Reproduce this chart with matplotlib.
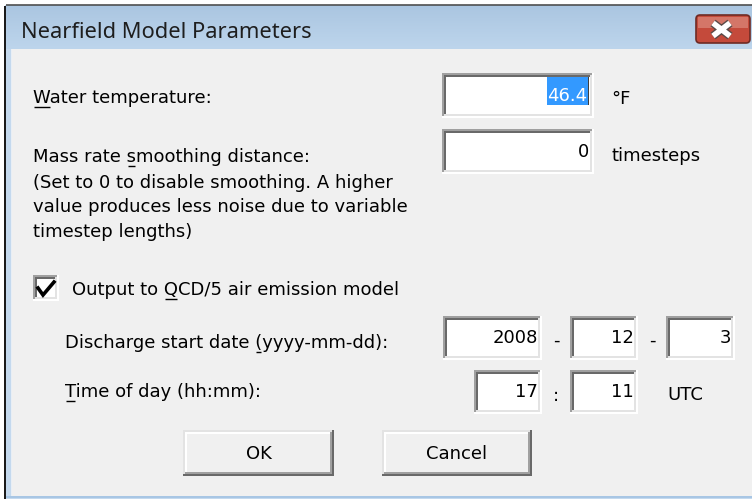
import numpy as np
import matplotlib
matplotlib.use("Agg")
import matplotlib.pyplot as plt
from matplotlib.patches import Rectangle, FancyBboxPatch
from matplotlib.colors import LinearSegmentedColormap
import matplotlib.patheffects as pe

plt.rcParams['font.family'] = ['DejaVu Sans']

# dialog content
title = "Nearfield Model Parameters"
labels = ["Water temperature:", "Mass rate smoothing distance:",
          "Output to QCD/5 air emission model",
          "Discharge start date (yyyy-mm-dd):", "Time of day (hh:mm):"]
underline_idx = [0, 10, 10, 21, 0]
note_lines = ["(Set to 0 to disable smoothing. A higher",
              "value produces less noise due to variable",
              "timestep lengths)"]
water_temp = "46.4"
smoothing = "0"
date_parts = ["2008", "12", "3"]
time_parts = ["17", "11"]
units = ["°F", "timesteps", "UTC"]
buttons = ["OK", "Cancel"]

W, H = 752, 500
FS = 13
BG = "#f0f0f0"

fig = plt.figure(figsize=(W / 100, H / 100), dpi=100)
ax = fig.add_axes([0, 0, 1, 1])
ax.set_xlim(0, W)
ax.set_ylim(H, 0)
ax.axis("off")
fig.patch.set_facecolor("white")


def rect(x0, y0, x1, y1, z=2, **kw):
    ax.add_patch(Rectangle((x0, y0), x1 - x0, y1 - y0, zorder=z, **kw))


def hline(x0, x1, y, c, lw=1):
    ax.plot([x0, x1], [y, y], color=c, lw=lw * 0.72, solid_capstyle="butt", zorder=3)


def vline(x, y0, y1, c, lw=1):
    ax.plot([x, x], [y0, y1], color=c, lw=lw * 0.72, solid_capstyle="butt", zorder=3)


def sunken(x0, y0, x1, y1, fill="white"):
    rect(x0, y0, x1, y1, facecolor=fill, edgecolor="none")
    hline(x0, x1, y0 + 1, "#a0a0a0", 2)
    vline(x0 + 1, y0, y1, "#a0a0a0", 2)
    hline(x0 + 2, x1 - 2, y0 + 3, "#696969", 2)
    vline(x0 + 3, y0 + 2, y1 - 2, "#696969", 2)
    hline(x0, x1, y1 - 1, "#ffffff", 2)
    vline(x1 - 1, y0, y1, "#ffffff", 2)
    hline(x0 + 2, x1 - 2, y1 - 3, "#e3e3e3", 2)
    vline(x1 - 3, y0 + 2, y1 - 2, "#e3e3e3", 2)


def raised(x0, y0, x1, y1):
    rect(x0, y0, x1, y1, facecolor=BG, edgecolor="none")
    hline(x0, x1, y0 + 1, "#e3e3e3", 2)
    vline(x0 + 1, y0, y1, "#e3e3e3", 2)
    hline(x0 + 2, x1 - 2, y0 + 3, "#ffffff", 2)
    vline(x0 + 3, y0 + 2, y1 - 2, "#ffffff", 2)
    hline(x0, x1, y1 - 1, "#696969", 2)
    vline(x1 - 1, y0, y1, "#696969", 2)
    hline(x0 + 2, x1 - 2, y1 - 3, "#a0a0a0", 2)
    vline(x1 - 3, y0 + 2, y1 - 2, "#a0a0a0", 2)


def txt(x, y, s, ha="left", color="#000000"):
    return ax.text(x, y, s, fontsize=FS, va="baseline", ha=ha, color=color, zorder=5)


def label(x, y, s, ul=None):
    t = txt(x, y, s)
    if ul is not None:
        # underline the mnemonic letter
        r = fig.canvas.get_renderer()
        inv = ax.transData.inverted()
        pre = ax.text(x, y, s[:ul], fontsize=FS, va="baseline", alpha=0)
        ch = ax.text(x, y, s[:ul + 1], fontsize=FS, va="baseline", alpha=0)
        xa = inv.transform(pre.get_window_extent(r))[1, 0] if ul else x
        xb = inv.transform(ch.get_window_extent(r))[1, 0]
        hline(xa + 1, xb - 1, y + 4, "#000000", 1.4)
    return t


# window frame and title bar
rect(5, 5, W + 2, 499, z=0.5, facecolor="#c4d9ee", edgecolor="none")
grad = np.linspace(0, 1, 50)[:, None]
ax.imshow(grad, extent=(6, W, 49, 6), aspect="auto", zorder=1,
          cmap=LinearSegmentedColormap.from_list("tb", ["#abc6e1", "#bdd5ec"]))
vline(5, 6, 499, "#1a1a1a", 2)
hline(6, W, 5, "#3c3c3c", 1.5)
rect(11, 49, W, 496, z=1.5, facecolor=BG, edgecolor="none")
vline(11, 49, 496, "#e8eef5", 1)
hline(6, W, 497, "#a8c6e4", 2)
ax.text(21, 38, title, fontsize=15.7, va="baseline", ha="left", color="#1e1e1e",
        family="Noto Sans", zorder=5)

# close button
btn = FancyBboxPatch((696, 15), 54, 28, boxstyle="round,pad=0,rounding_size=4",
                     facecolor="#c44a3b", edgecolor="#6e2b25", lw=1.2, zorder=3)
ax.add_patch(btn)
rect(698, 17, 748, 28, z=3.1, facecolor="#dc8a7c", edgecolor="none", alpha=0.7)
ax.plot([713, 730, np.nan, 713, 730], [23, 36, np.nan, 36, 23], color="white", lw=4,
        zorder=4, solid_capstyle="butt",
        path_effects=[pe.withStroke(linewidth=6, foreground="#5a4a48")])

# labels
label(33, 103, labels[0], underline_idx[0])
label(33, 162, labels[1], underline_idx[1])
for i, line in enumerate(note_lines):
    label(33, 188 + 24.3 * i, line)
label(72, 295, labels[2], underline_idx[2])
label(65, 348, labels[3], underline_idx[3])
label(65, 397, labels[4], underline_idx[4])

# water temperature box with selected text
sunken(442, 73, 594, 118)
rect(547, 77, 588, 105, z=4, facecolor="#3399ff", edgecolor="none")
txt(587, 101, water_temp, ha="right", color="white")
vline(588, 77, 105, "#000000", 1.5)
txt(611, 104, units[0])

# smoothing box
sunken(442, 129, 594, 174)
txt(589, 157, smoothing, ha="right")
txt(611, 161, units[1])

# checkbox
sunken(33, 275, 59, 301)
ax.plot([38, 43, 54], [288, 295, 282], color="black", lw=2.6, solid_joinstyle="miter",
        zorder=5)

# date fields
date_boxes = [(443, 542), (570, 638), (666, 735)]
for (x0, x1), v in zip(date_boxes, date_parts):
    sunken(x0, 316, x1, 360)
    txt(x1 - 4, 343, v, ha="right")
for xs in (556, 652):
    txt(xs, 346, "-", ha="center")

# time fields
time_boxes = [(474, 542), (570, 638)]
for (x0, x1), v in zip(time_boxes, time_parts):
    sunken(x0, 370, x1, 414)
    txt(x1 - 4, 397, v, ha="right")
txt(556, 401, ":", ha="center")
txt(667, 400, units[2])

# buttons
for (x0, x1), name in zip([(183, 334), (382, 532)], buttons):
    raised(x0, 430, x1, 476)
    txt((x0 + x1) / 2, 459, name, ha="center")

fig.savefig("out.png", dpi=100, facecolor="white")
